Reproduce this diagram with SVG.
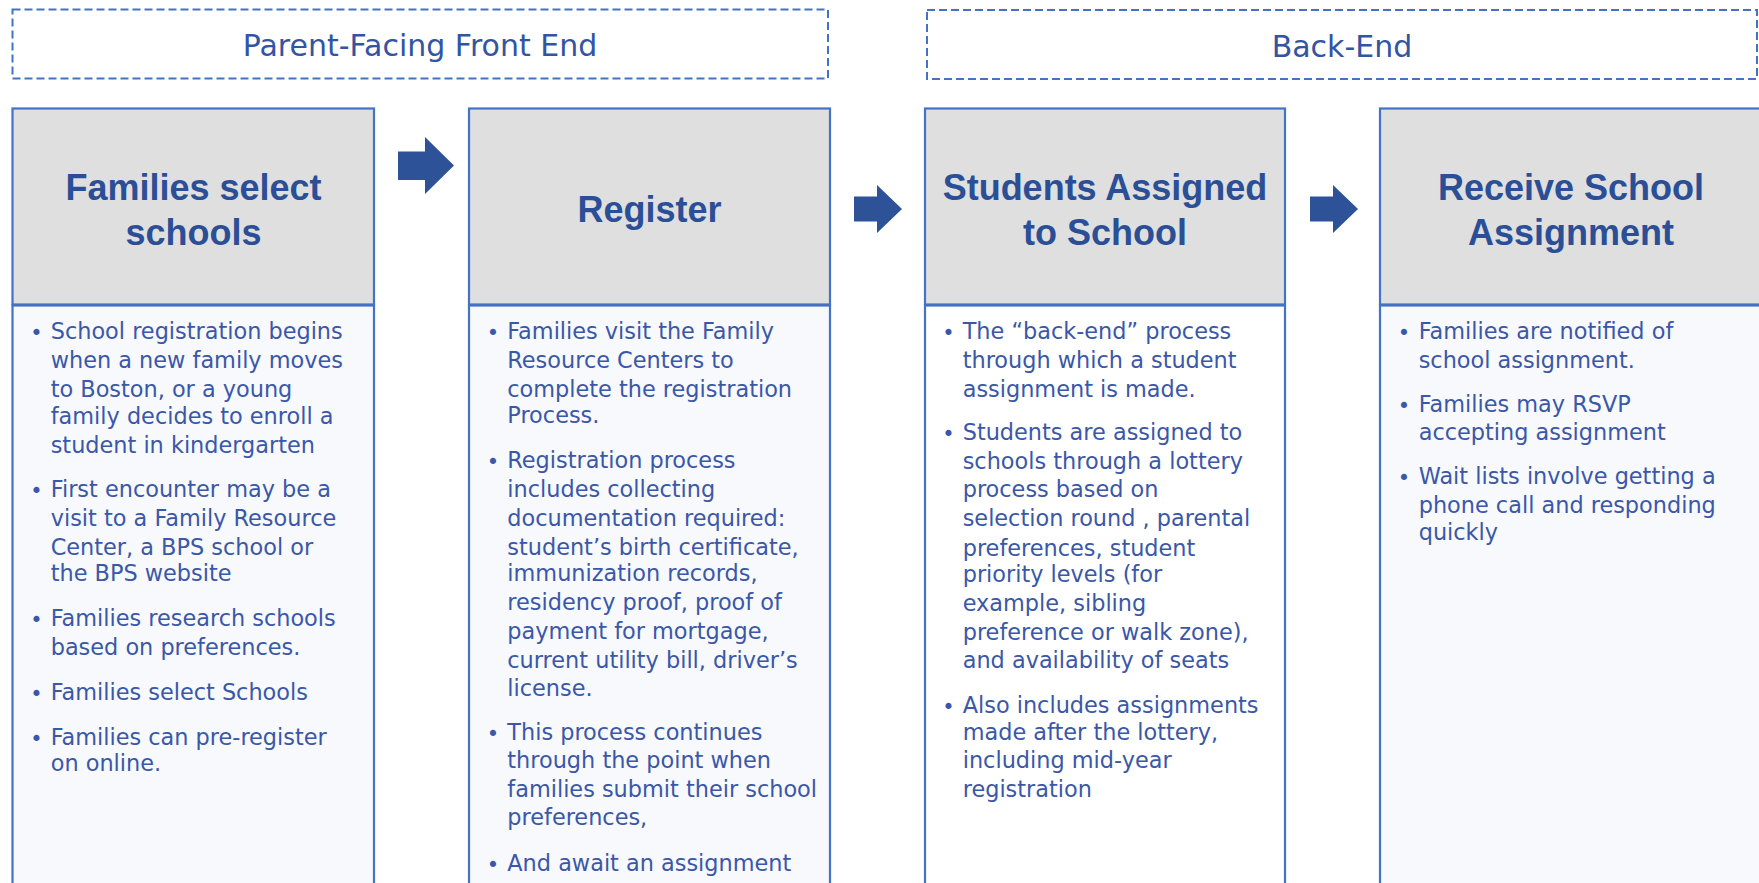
<svg xmlns="http://www.w3.org/2000/svg" width="1759" height="883" viewBox="0 0 1759 883">
  <style>
    .lane { fill: none; stroke: #4472C4; stroke-width: 2; stroke-dasharray: 8 4; }
    .lane-title { font-family: "DejaVu Sans", "Liberation Sans", sans-serif; font-size: 30px; fill: #3354A3; text-anchor: middle; }
    .head { fill: #DFDFDF; stroke: #4472C4; stroke-width: 2.2; }
    .body { fill: #F7F9FD; stroke: #4472C4; stroke-width: 2.2; }
    .body.plain { fill: #FFFFFF; }
    .step-title { font-family: "Liberation Sans", Arial, sans-serif; font-weight: bold; font-size: 36px; fill: #2B4F97; text-anchor: middle; }
    .txt { font-family: "DejaVu Sans", "Liberation Sans", sans-serif; font-size: 22.4px; fill: #3A57A8; }
    .dot { font-family: "DejaVu Sans", sans-serif; font-size: 21px; fill: #3A57A8; text-anchor: middle; }
    .arrow { fill: #2D5298; }
  </style>

  <!-- swimlane labels -->
  <g id="lane-front">
    <rect class="lane" x="12.5" y="9.5" width="815.5" height="69"/>
    <text class="lane-title" x="420" y="56">Parent-Facing Front End</text>
  </g>
  <g id="lane-back">
    <rect class="lane" x="927" y="10" width="830" height="69"/>
    <text class="lane-title" x="1342" y="56.5">Back-End</text>
  </g>

  <!-- step 1 -->
  <g id="step-select">
    <rect class="body" x="12.5" y="305.5" width="361.5" height="600"/>
    <rect class="head" x="12.5" y="108.5" width="361.5" height="196"/>
    <text class="step-title" x="193.5" y="200">Families select</text>
    <text class="step-title" x="193.5" y="245">schools</text>
    <text class="dot" x="36.5" y="340">•</text>
    <text class="dot" x="36.5" y="498">•</text>
    <text class="dot" x="36.5" y="627">•</text>
    <text class="dot" x="36.5" y="701">•</text>
    <text class="dot" x="36.5" y="746">•</text>
    <text class="txt">
      <tspan x="50.7" y="339">School registration begins</tspan>
      <tspan x="50.7" y="367.5">when a new family moves</tspan>
      <tspan x="50.7" y="396.5">to Boston, or a young</tspan>
      <tspan x="50.7" y="423.5">family decides to enroll a</tspan>
      <tspan x="50.7" y="452.5">student in kindergarten</tspan>
      <tspan x="50.7" y="497">First encounter may be a</tspan>
      <tspan x="50.7" y="526">visit to a Family Resource</tspan>
      <tspan x="50.7" y="555">Center, a BPS school or</tspan>
      <tspan x="50.7" y="581">the BPS website</tspan>
      <tspan x="50.7" y="626">Families research schools</tspan>
      <tspan x="50.7" y="655">based on preferences.</tspan>
      <tspan x="50.7" y="700">Families select Schools</tspan>
      <tspan x="50.7" y="745">Families can pre-register</tspan>
      <tspan x="50.7" y="771">on online.</tspan>
    </text>
  </g>

  <!-- step 2 -->
  <g id="step-register">
    <rect class="body" x="469" y="305.5" width="361" height="600"/>
    <rect class="head" x="469" y="108.5" width="361" height="196"/>
    <text class="step-title" x="649.5" y="222">Register</text>
    <text class="dot" x="493" y="340">•</text>
    <text class="dot" x="493" y="469">•</text>
    <text class="dot" x="493" y="740.5">•</text>
    <text class="dot" x="493" y="871.5">•</text>
    <text class="txt">
      <tspan x="507.3" y="339">Families visit the Family</tspan>
      <tspan x="507.3" y="368">Resource Centers to</tspan>
      <tspan x="507.3" y="397">complete the registration</tspan>
      <tspan x="507.3" y="423">Process.</tspan>
      <tspan x="507.3" y="468">Registration process</tspan>
      <tspan x="507.3" y="497">includes collecting</tspan>
      <tspan x="507.3" y="525.5">documentation required:</tspan>
      <tspan x="507.3" y="554.5">student’s birth certificate,</tspan>
      <tspan x="507.3" y="581">immunization records,</tspan>
      <tspan x="507.3" y="610">residency proof, proof of</tspan>
      <tspan x="507.3" y="638.5">payment for mortgage,</tspan>
      <tspan x="507.3" y="667.5">current utility bill, driver’s</tspan>
      <tspan x="507.3" y="696">license.</tspan>
      <tspan x="507.3" y="739.5">This process continues</tspan>
      <tspan x="507.3" y="768">through the point when</tspan>
      <tspan x="507.3" y="796.5">families submit their school</tspan>
      <tspan x="507.3" y="825">preferences,</tspan>
      <tspan x="507.3" y="870.5">And await an assignment</tspan>
    </text>
  </g>

  <!-- step 3 -->
  <g id="step-assign">
    <rect class="body plain" x="925" y="305.5" width="360" height="600"/>
    <rect class="head" x="925" y="108.5" width="360" height="196"/>
    <text class="step-title" x="1105" y="200">Students Assigned</text>
    <text class="step-title" x="1105" y="245">to School</text>
    <text class="dot" x="948.5" y="340">•</text>
    <text class="dot" x="948.5" y="440.5">•</text>
    <text class="dot" x="948.5" y="713.5">•</text>
    <text class="txt">
      <tspan x="962.7" y="339">The “back-end” process</tspan>
      <tspan x="962.7" y="368">through which a student</tspan>
      <tspan x="962.7" y="397">assignment is made.</tspan>
      <tspan x="962.7" y="439.5">Students are assigned to</tspan>
      <tspan x="962.7" y="468.5">schools through a lottery</tspan>
      <tspan x="962.7" y="497">process based on</tspan>
      <tspan x="962.7" y="526">selection round , parental</tspan>
      <tspan x="962.7" y="555.5">preferences, student</tspan>
      <tspan x="962.7" y="581.5">priority levels (for</tspan>
      <tspan x="962.7" y="610.5">example, sibling</tspan>
      <tspan x="962.7" y="639.5">preference or walk zone),</tspan>
      <tspan x="962.7" y="668">and availability of seats</tspan>
      <tspan x="962.7" y="712.5">Also includes assignments</tspan>
      <tspan x="962.7" y="739.5">made after the lottery,</tspan>
      <tspan x="962.7" y="768">including mid-year</tspan>
      <tspan x="962.7" y="796.5">registration</tspan>
    </text>
  </g>

  <!-- step 4 -->
  <g id="step-receive">
    <rect class="body" x="1380" y="305.5" width="382" height="600"/>
    <rect class="head" x="1380" y="108.5" width="382" height="196"/>
    <text class="step-title" x="1571" y="200">Receive School</text>
    <text class="step-title" x="1571" y="245">Assignment</text>
    <text class="dot" x="1404" y="340">•</text>
    <text class="dot" x="1404" y="412.5">•</text>
    <text class="dot" x="1404" y="484.5">•</text>
    <text class="txt">
      <tspan x="1418.7" y="339">Families are notified of</tspan>
      <tspan x="1418.7" y="367.5">school assignment.</tspan>
      <tspan x="1418.7" y="411.5">Families may RSVP</tspan>
      <tspan x="1418.7" y="439.5">accepting assignment</tspan>
      <tspan x="1418.7" y="483.5">Wait lists involve getting a</tspan>
      <tspan x="1418.7" y="513">phone call and responding</tspan>
      <tspan x="1418.7" y="539.5">quickly</tspan>
    </text>
  </g>

  <!-- flow arrows between steps -->
  <g id="connectors">
    <polygon class="arrow" points="398,151.5 425,151.5 425,137 454,165.5 425,194 425,180 398,180"/>
    <polygon class="arrow" points="854,196.5 877,196.5 877,185 902,209 877,233 877,221.5 854,221.5"/>
    <polygon class="arrow" points="1310,196.5 1333,196.5 1333,185 1358,209 1333,233 1333,221.5 1310,221.5"/>
  </g>
</svg>
